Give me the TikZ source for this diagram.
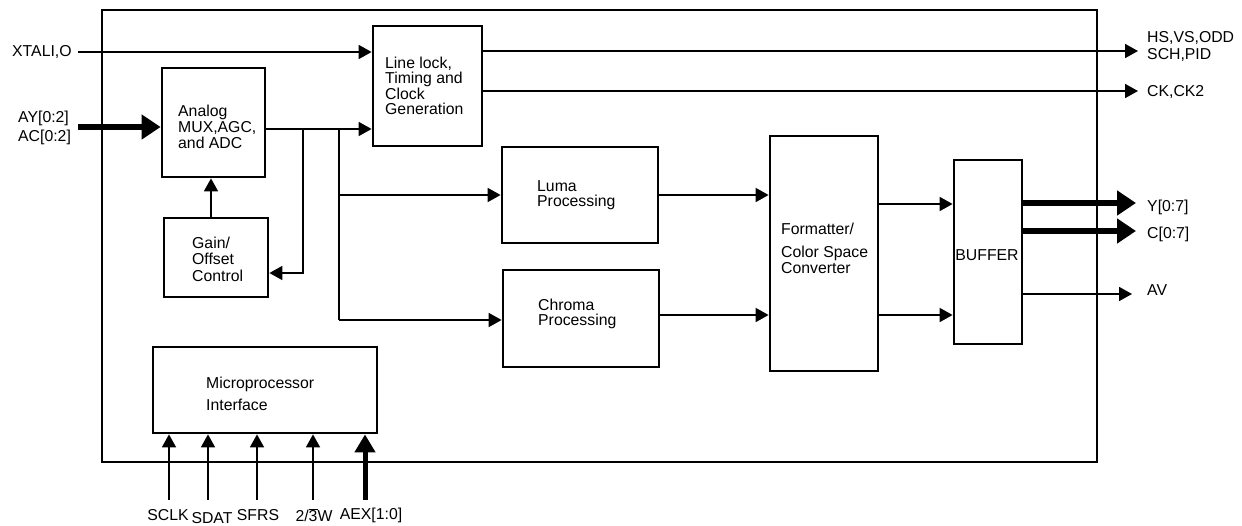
\documentclass[tikz,border=0pt]{standalone}
\usepackage{fontspec}
\setmainfont{Liberation Sans}
\usetikzlibrary{arrows.meta}
\tikzset{
  box/.style={draw, line width=2.8pt, inner sep=0pt, fill=none},
  txt/.style={anchor=west, align=left, inner sep=0pt, font=\fontsize{15.8}{16}\selectfont},
  lbl/.style={inner sep=0pt, font=\fontsize{15.8}{16}\selectfont},
  wire/.style={line width=1.8pt},
  arr/.style={line width=1.8pt, -{Triangle[length=13pt,width=14pt]}},
  bus/.style={line width=6.5pt, -{Triangle[length=19pt,width=24pt]}},
}
\begin{document}
\begin{tikzpicture}[x=1pt,y=-1pt]
\useasboundingbox (0,0) rectangle (1242,525);
% blocks
\node[box, minimum width=995pt, minimum height=452pt] (frame) at (599.5,236) {};
\node[box, minimum width=109pt, minimum height=120pt] (ll) at (427.5,86) {};
\node[box, minimum width=103pt, minimum height=109pt] (adc) at (213.5,122.5) {};
\node[box, minimum width=104pt, minimum height=79pt] (gain) at (216,257.5) {};
\node[box, minimum width=156pt, minimum height=96pt] (luma) at (580,195) {};
\node[box, minimum width=156pt, minimum height=97pt] (chroma) at (581,318.5) {};
\node[box, minimum width=108pt, minimum height=235pt] (fmt) at (824,253.5) {};
\node[box, minimum width=68pt, minimum height=184pt] (buf) at (988,252) {};
\node[box, minimum width=224pt, minimum height=86pt] (mp) at (265,390) {};
% block texts
\node[txt, font=\fontsize{15.8}{15.5}\selectfont] (lltxt) at (385,86) {Line lock,\\Timing and\\Clock\\Generation};
\node[txt] (adctxt) at (178,127) {Analog\\MUX,AGC,\\and ADC};
\node[txt, font=\fontsize{15.8}{16.5}\selectfont] (gaintxt) at (192,259) {Gain/\\Offset\\Control};
\node[txt, font=\fontsize{15.8}{15}\selectfont] (lumatxt) at (537,195.5) {Luma\\Processing};
\node[txt, font=\fontsize{15.8}{15.5}\selectfont] (chromatxt) at (538,314) {Chroma\\Processing};
\node[txt] (fmttxt) at (781,248) {Formatter/\\[7pt]Color Space\\Converter};
\node[lbl] (buftxt) at (987,255) {BUFFER};
\node[txt] (mptxt) at (206,394) {Microprocessor\\[6pt]Interface};
% external labels
\node[lbl, anchor=west] (xtal) at (12,52) {XTALI,O};
\node[txt, font=\fontsize{15.8}{19}\selectfont] (ain) at (18,127.5) {AY[0:2]\\AC[0:2]};
\node[txt, font=\fontsize{15.8}{16.5}\selectfont] (hs) at (1147,46.5) {HS,VS,ODD\\SCH,PID};
\node[lbl, anchor=west] (ck) at (1147,92) {CK,CK2};
\node[lbl, anchor=west] (ylbl) at (1147,207) {Y[0:7]};
\node[lbl, anchor=west] (clbl) at (1147,234) {C[0:7]};
\node[lbl, anchor=west] (avlbl) at (1147,290) {AV};
\node[lbl] (sclk) at (168,515) {SCLK};
\node[lbl] (sdat) at (212,518) {SDAT};
\node[lbl] (sfrs) at (258,515) {SFRS};
\node[lbl] (rw) at (314,515) {2/$\overline{\mbox{3}}$W};
\node[lbl] (aex) at (371,515) {AEX[1:0]};
% coordinates
\coordinate (xs) at (78,52);
\coordinate (as) at (78,127);
\coordinate (j1) at (303,129);
\coordinate (j2) at (339,129);
\coordinate (g1) at (303,273);
\coordinate (l1) at (339,195);
\coordinate (c1) at (339,320);
\coordinate (o1) at (1138,51);
\coordinate (o2) at (1138,91);
\coordinate (f1) at (878,204);
\coordinate (f2) at (878,315);
\coordinate (yo) at (1136,203);
\coordinate (co) at (1136,231);
\coordinate (av) at (1132,294);
\coordinate (b1) at (169,500);
\coordinate (b2) at (208,500);
\coordinate (b3) at (257,500);
\coordinate (b4) at (313,500);
\coordinate (b5) at (365,500);
% connectors
\draw[arr] (xs) -- (xs -| ll.west);
\draw[bus] (as) -- (as -| adc.west);
\draw[wire] (adc.east |- j1) -- (j2);
\draw[arr] (j2) -- (j2 -| ll.west);
\draw[arr] (j1) -- (g1) -- (g1 -| gain.east);
\draw[arr] ([xshift=-5pt]gain.north) -- ([xshift=-5pt]gain.north |- adc.south);
\draw[wire] (j2) -- (c1);
\draw[arr] (l1) -- (l1 -| luma.west);
\draw[arr] (c1) -- (c1 -| chroma.west);
\draw[arr] (ll.east |- o1) -- (o1);
\draw[arr] (ll.east |- o2) -- (o2);
\draw[arr] (luma.east) -- (luma.east -| fmt.west);
\draw[arr] ([yshift=3.5pt]chroma.east) -- ([yshift=3.5pt]chroma.east -| fmt.west);
\draw[arr] (f1) -- (f1 -| buf.west);
\draw[arr] (f2) -- (f2 -| buf.west);
\draw[bus] (buf.east |- yo) -- (yo);
\draw[bus] (buf.east |- co) -- (co);
\draw[arr] ([xshift=-2pt]buf.east |- av) -- (av);
\draw[arr] (b1) -- (b1 |- mp.south);
\draw[arr] (b2) -- (b2 |- mp.south);
\draw[arr] (b3) -- (b3 |- mp.south);
\draw[arr] (b4) -- (b4 |- mp.south);
\draw[line width=5pt, -{Triangle[length=18pt,width=20pt]}] (b5) -- (b5 |- mp.south);
\end{tikzpicture}
\end{document}
